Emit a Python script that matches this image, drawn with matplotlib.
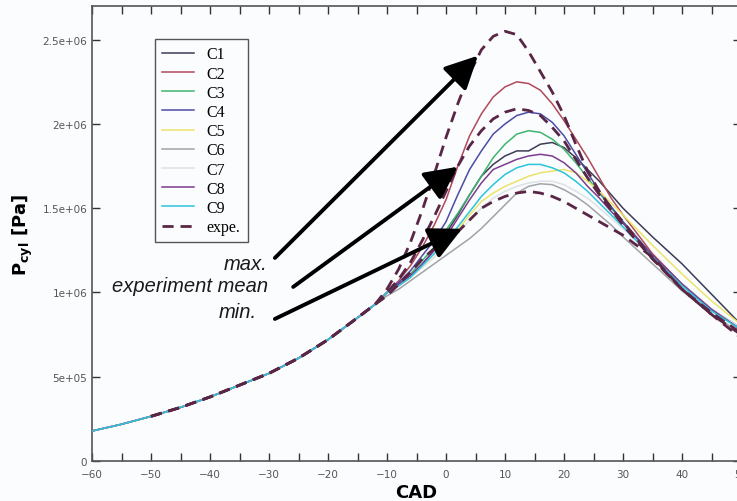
import numpy as np
import matplotlib
matplotlib.use("Agg")
import matplotlib.pyplot as plt
from matplotlib.ticker import MultipleLocator

# compression part, shared by all traces (CAD, Pa / 1e6)
cad_comp = [-60, -55, -50, -45, -40, -35, -30, -25, -20, -15, -12]
p_comp = [0.178, 0.218, 0.265, 0.318, 0.38, 0.45, 0.52, 0.61, 0.72, 0.85, 0.93]

# combustion part, common CAD grid
cad_comb = [-10, -8, -6, -4, -2, 0, 2, 4, 6, 8, 10, 12, 14, 16, 18, 20,
            22, 24, 26, 28, 30, 35, 40, 45, 50]

p_c1 = [1.00, 1.05, 1.10, 1.17, 1.25, 1.35, 1.46, 1.58, 1.69, 1.76, 1.81, 1.84, 1.84,
        1.88, 1.89, 1.86, 1.80, 1.73, 1.66, 1.58, 1.50, 1.33, 1.17, 0.99, 0.81]
p_c2 = [1.00, 1.07, 1.16, 1.27, 1.40, 1.55, 1.75, 1.93, 2.06, 2.16, 2.22, 2.25, 2.24,
        2.20, 2.12, 2.02, 1.91, 1.80, 1.68, 1.56, 1.46, 1.23, 1.05, 0.90, 0.78]
p_c3 = [1.00, 1.05, 1.11, 1.19, 1.27, 1.37, 1.47, 1.58, 1.69, 1.80, 1.88, 1.94, 1.96,
        1.95, 1.91, 1.85, 1.77, 1.68, 1.59, 1.50, 1.42, 1.22, 1.05, 0.90, 0.79]
p_c4 = [1.00, 1.06, 1.13, 1.22, 1.31, 1.42, 1.58, 1.73, 1.84, 1.94, 2.00, 2.05, 2.07,
        2.06, 2.01, 1.93, 1.82, 1.71, 1.60, 1.51, 1.42, 1.22, 1.05, 0.90, 0.78]
p_c5 = [1.00, 1.04, 1.09, 1.15, 1.21, 1.28, 1.37, 1.46, 1.54, 1.59, 1.63, 1.66, 1.69,
        1.71, 1.72, 1.73, 1.71, 1.66, 1.60, 1.53, 1.46, 1.28, 1.11, 0.95, 0.81]
p_c6 = [0.98, 1.02, 1.07, 1.12, 1.17, 1.22, 1.27, 1.32, 1.38, 1.45, 1.52, 1.59, 1.63,
        1.645, 1.64, 1.61, 1.57, 1.52, 1.46, 1.40, 1.33, 1.17, 1.01, 0.87, 0.76]
p_c7 = [1.00, 1.04, 1.09, 1.15, 1.21, 1.27, 1.35, 1.43, 1.50, 1.56, 1.60, 1.63, 1.65,
        1.66, 1.66, 1.64, 1.60, 1.56, 1.50, 1.44, 1.38, 1.21, 1.05, 0.90, 0.79]
p_c8 = [1.00, 1.05, 1.10, 1.17, 1.25, 1.33, 1.44, 1.55, 1.65, 1.73, 1.76, 1.79, 1.81,
        1.82, 1.81, 1.77, 1.71, 1.63, 1.56, 1.48, 1.41, 1.22, 1.05, 0.90, 0.78]
p_c9 = [1.00, 1.04, 1.09, 1.16, 1.23, 1.30, 1.39, 1.48, 1.57, 1.64, 1.70, 1.74, 1.76,
        1.76, 1.74, 1.71, 1.66, 1.60, 1.53, 1.46, 1.39, 1.21, 1.04, 0.89, 0.78]

# experiment envelope (max / mean / min)
p_exp_max = [1.02, 1.14, 1.30, 1.49, 1.70, 1.92, 2.12, 2.30, 2.44, 2.52, 2.55, 2.53, 2.43,
             2.31, 2.19, 2.05, 1.88, 1.72, 1.60, 1.50, 1.42, 1.20, 1.02, 0.88, 0.76]
p_exp_mean = [1.00, 1.08, 1.18, 1.31, 1.45, 1.60, 1.75, 1.87, 1.96, 2.03, 2.07, 2.09, 2.08,
              2.05, 1.98, 1.90, 1.79, 1.68, 1.58, 1.49, 1.40, 1.20, 1.02, 0.87, 0.75]
p_exp_min = [0.98, 1.05, 1.12, 1.20, 1.26, 1.31, 1.36, 1.43, 1.50, 1.54, 1.57, 1.59, 1.60,
             1.59, 1.57, 1.54, 1.50, 1.46, 1.42, 1.38, 1.34, 1.21, 1.02, 0.87, 0.73]

labels = ["C1", "C2", "C3", "C4", "C5", "C6", "C7", "C8", "C9"]
sim_curves = [p_c1, p_c2, p_c3, p_c4, p_c5, p_c6, p_c7, p_c8, p_c9]
colors = ["#3c3c58", "#b04a5a", "#3fb56e", "#4c4ca6", "#ece46a",
          "#a2a2a8", "#dde2e6", "#7d3c8e", "#2cc4dc"]

yticks = [0, 0.5e6, 1e6, 1.5e6, 2e6, 2.5e6]
ytick_labels = ["0", "5e+05", "1e+06", "1.5e+06", "2e+06", "2.5e+06"]

bg = "#fafcfd"
fig = plt.figure(figsize=(7.37, 5.02), dpi=100, facecolor=bg)
ax = fig.add_axes([92 / 737, 40 / 502, 649 / 737, 455 / 502], facecolor=bg)

for lab, p, col in zip(labels, sim_curves, colors):
    x = cad_comp + cad_comb
    y = np.array(p_comp + p) * 1e6
    ax.plot(x, y, color=col, lw=1.1, label=lab, zorder=3)

# experimental curves (compression part starts at -50)
exp_color = "#5a2646"
for i, p in enumerate([p_exp_max, p_exp_mean, p_exp_min]):
    x = cad_comp[2:] + cad_comb
    y = np.array(p_comp[2:] + p) * 1e6
    ax.plot(x, y, color=exp_color, lw=2.0, ls=(0, (4, 2.5)),
            label="expe." if i == 0 else None, zorder=4)

ax.set_xlim(-60, 50)
ax.set_ylim(0, 2.70e6)
ax.xaxis.set_major_locator(MultipleLocator(10))
ax.xaxis.set_minor_locator(MultipleLocator(5))
ax.set_yticks(yticks, ytick_labels)
ax.tick_params(which="both", direction="in", length=6, width=1, color="#333333",
               top=True, right=True, labelsize=7.5, labelcolor="#555555")
ax.tick_params(axis="x", pad=6)
for s in ax.spines.values():
    s.set_color("#555555")
    s.set_linewidth(1.2)

ax.set_xlabel("CAD", fontsize=13, fontweight="bold", labelpad=3)
ax.set_ylabel("P$_{\\mathbf{cyl}}$ [Pa]", fontsize=13, fontweight="bold", labelpad=5)

leg = ax.legend(loc="upper left", bbox_to_anchor=(0.097, 0.927), borderaxespad=0,
                prop={"family": "Liberation Serif", "size": 11.5}, fancybox=False,
                framealpha=1, edgecolor="#555555", facecolor=bg, handlelength=2.0,
                labelspacing=0.2, borderpad=0.45, handletextpad=0.8)
leg.get_frame().set_linewidth(1.0)

# annotations with arrows
arrow = dict(arrowstyle="-|>,head_length=1.0,head_width=0.5", lw=2.8, color="black",
             mutation_scale=20, shrinkA=0, shrinkB=0)
ax.annotate("", xy=(5.4, 2.405e6), xytext=(-29.0, 1.205e6), arrowprops=arrow, zorder=6)
ax.annotate("", xy=(2.0, 1.746e6), xytext=(-25.9, 1.033e6), arrowprops=arrow, zorder=6)
ax.annotate("", xy=(2.7, 1.378e6), xytext=(-29.0, 0.843e6), arrowprops=arrow, zorder=6)

tfont = dict(family="Liberation Sans", style="italic", fontsize=14.5, color="#1a1a1a",
             ha="right", va="center")
ax.text(-30.2, 1.17e6, "max.", **tfont)
ax.text(-30.2, 1.04e6, "experiment mean", **tfont)
ax.text(-32.0, 0.89e6, "min.", **tfont)

fig.savefig("out.png", dpi=100, facecolor=bg)
